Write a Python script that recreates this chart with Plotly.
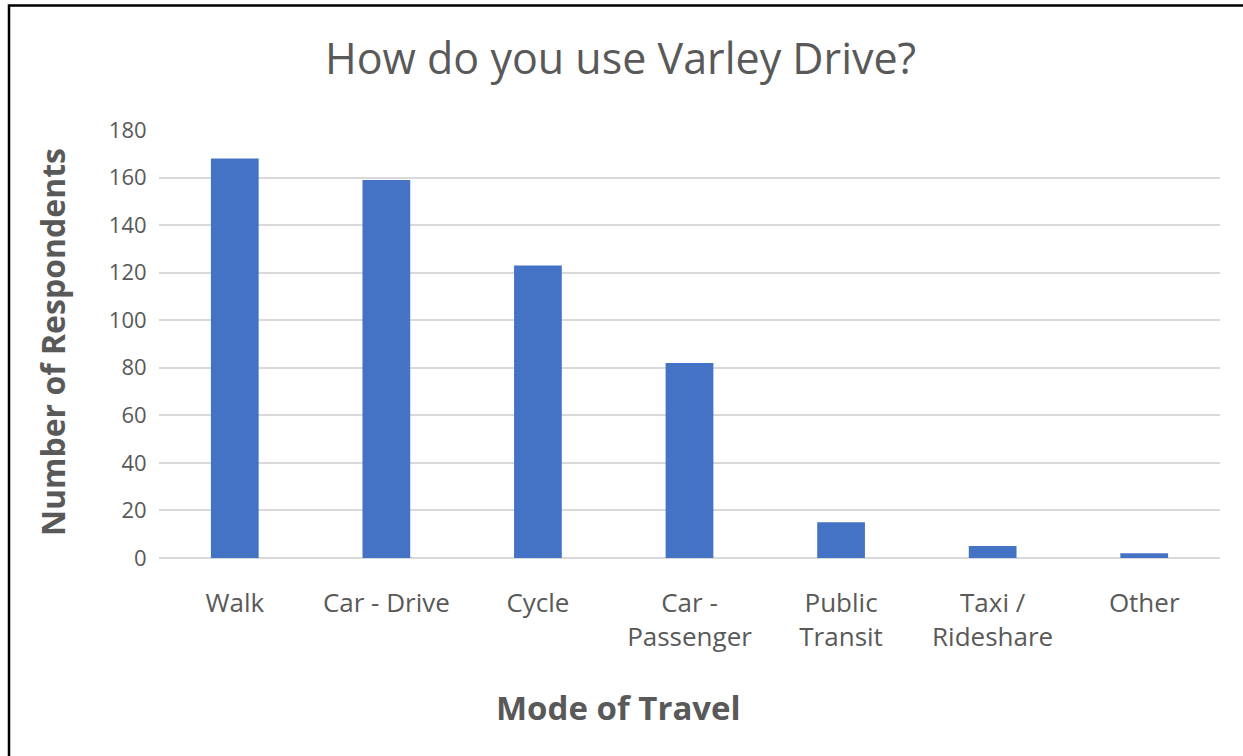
import plotly.graph_objects as go

# Survey responses by mode of travel
modes = ["Walk", "Car - Drive", "Cycle", "Car -<br>Passenger",
         "Public<br>Transit", "Taxi /<br>Rideshare", "Other"]
respondents = [168, 159, 123, 82, 15, 5, 2]
y_ticks = [0, 20, 40, 60, 80, 100, 120, 140, 160, 180]

W, H = 1243, 756
ML, MR, MT, MB = 159, 23, 130, 198
plot_w = W - ML - MR
plot_h = H - MT - MB

def px_x(px):
    return (px - ML) / plot_w

def px_y(py):
    return (H - MB - py) / plot_h

TEXT = "#595959"
FONT = "Open Sans"

fig = go.Figure(go.Bar(
    x=modes, y=respondents,
    marker=dict(color="#4472C4", line=dict(width=0)),
))

fig.update_layout(
    width=W, height=H,
    margin=dict(l=ML, r=MR, t=MT, b=MB, pad=0),
    paper_bgcolor="white", plot_bgcolor="white",
    bargap=0.685,
    showlegend=False,
    font=dict(family=FONT, color=TEXT),
    xaxis=dict(
        showgrid=False, zeroline=False, showline=False,
        ticks="outside", ticklen=22, tickcolor="rgba(0,0,0,0)",
        tickfont=dict(size=26, color=TEXT, family=FONT),
    ),
    yaxis=dict(
        range=[0, 180], tickvals=y_ticks,
        showgrid=True, gridcolor="#D9D9D9", gridwidth=1.5,
        zeroline=True, zerolinecolor="#D9D9D9", zerolinewidth=1.5,
        showline=False,
        ticks="outside", ticklen=7, tickcolor="rgba(0,0,0,0)",
        tickfont=dict(size=22, color=TEXT, family=FONT),
    ),
    annotations=[
        dict(text="How do you use Varley Drive?", xref="paper", yref="paper",
             x=px_x(620), y=px_y(58), showarrow=False,
             xanchor="center", yanchor="middle",
             font=dict(size=43, color=TEXT, family=FONT)),
        dict(text="<b>Mode of Travel</b>", xref="paper", yref="paper",
             x=px_x(618), y=px_y(707), showarrow=False,
             xanchor="center", yanchor="middle",
             font=dict(size=33, color=TEXT, family=FONT)),
        dict(text="<b>Number of Respondents</b>", xref="paper", yref="paper",
             x=px_x(52), y=px_y(342), showarrow=False, textangle=-90,
             xanchor="center", yanchor="middle",
             font=dict(size=32, color=TEXT, family=FONT)),
    ],
    shapes=[
        dict(type="rect", xref="paper", yref="paper",
             x0=px_x(9), y0=px_y(800), x1=px_x(1300), y1=px_y(5.5),
             line=dict(color="black", width=2.5), fillcolor="rgba(0,0,0,0)",
             layer="above"),
    ],
)

fig.write_html("out.html")
